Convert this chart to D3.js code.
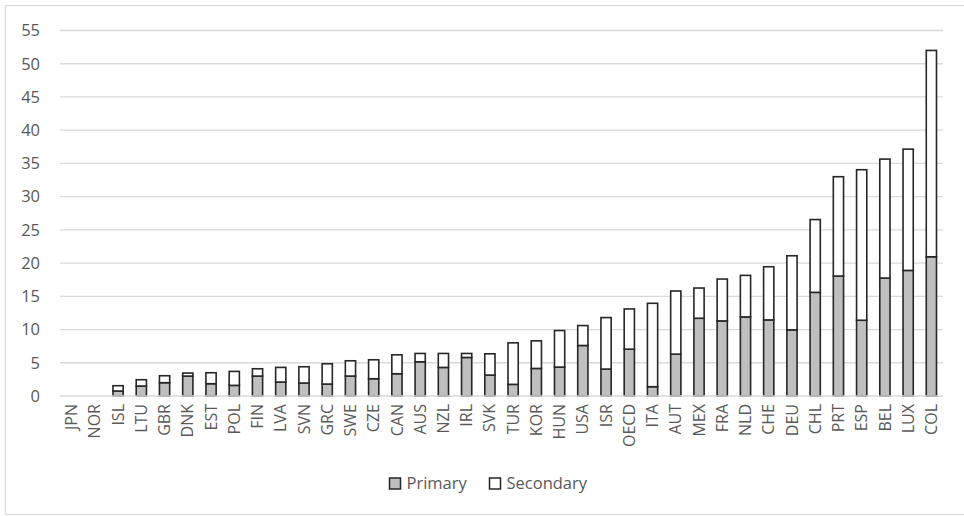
<!DOCTYPE html>
<html>
<head>
<meta charset="utf-8">
<script src="https://cdn.jsdelivr.net/npm/d3@7/dist/d3.min.js"></script>
<style>
  html, body { margin: 0; padding: 0; background: #fff; }
  svg { display: block; font-family: "Open Sans", "Noto Sans", sans-serif; }
</style>
</head>
<body>
<svg id="chart" width="964" height="516"></svg>
<script>
// Countries, ordered by total
const countries = ["JPN","NOR","ISL","LTU","GBR","DNK","EST","POL","FIN","LVA","SVN","GRC","SWE","CZE","CAN","AUS","NZL","IRL","SVK","TUR","KOR","HUN","USA","ISR","OECD","ITA","AUT","MEX","FRA","NLD","CHE","DEU","CHL","PRT","ESP","BEL","LUX","COL"];

// Primary component
const primary = [0,0,0.75,1.5,2.0,3.0,1.85,1.6,3.0,2.1,1.95,1.8,3.0,2.6,3.35,5.15,4.3,5.8,3.15,1.75,4.15,4.35,7.6,4.05,7.05,1.4,6.3,11.7,11.3,11.9,11.45,9.95,15.6,18.05,11.4,17.75,18.9,20.95];

// Secondary component (stacked on top of primary)
const secondary = [0,0,0.8,0.95,1.05,0.45,1.65,2.1,1.1,2.2,2.45,3.05,2.3,2.85,2.85,1.25,2.1,0.6,3.2,6.25,4.15,5.5,3.0,7.75,6.05,12.55,9.5,4.55,6.3,6.25,8.0,11.15,10.95,14.95,22.65,17.9,18.25,31.05];

const yTicks = [0,5,10,15,20,25,30,35,40,45,50,55];
const seriesNames = ["Primary","Secondary"];
const seriesFill = ["#bfbfbf","#ffffff"];

const svg = d3.select("#chart");
const textColor = "#595959";
const barStroke = "#262626";

// Chart frame
svg.append("rect")
  .attr("x", 5.5).attr("y", 5.5)
  .attr("width", 962).attr("height", 509)
  .attr("fill", "none").attr("stroke", "#d9d9d9").attr("stroke-width", 1.2);

const plot = { left: 60, right: 943, top: 30.5, bottom: 396 };

const x = d3.scaleBand()
  .domain(countries)
  .range([plot.left, plot.right])
  .paddingInner(0.56)
  .paddingOuter(0.28);

const y = d3.scaleLinear()
  .domain([0, 55])
  .range([plot.bottom, plot.top]);

// Gridlines
svg.append("g")
  .selectAll("line")
  .data(yTicks.filter(t => t > 0))
  .join("line")
  .attr("x1", plot.left).attr("x2", plot.right)
  .attr("y1", d => y(d)).attr("y2", d => y(d))
  .attr("stroke", "#d9d9d9").attr("stroke-width", 1.3);

// Y axis labels
const yAxis = svg.append("g")
  .attr("transform", `translate(${plot.left},0)`)
  .call(d3.axisLeft(y).tickValues(yTicks).tickSize(0).tickPadding(20));
yAxis.select(".domain").remove();
yAxis.selectAll("text")
  .attr("fill", textColor)
  .style("font-size", "16.5px")
  .style("font-family", "'Open Sans', sans-serif");

// Stacked bars
const stackData = countries.map((c, i) => ({ country: c, Primary: primary[i], Secondary: secondary[i] }));
const stacked = d3.stack().keys(seriesNames)(stackData);

svg.append("g")
  .selectAll("g")
  .data(stacked)
  .join("g")
  .attr("fill", (d, i) => seriesFill[i])
  .selectAll("rect")
  .data(d => d.filter(p => p[1] - p[0] > 0))
  .join("rect")
  .attr("x", d => x(d.data.country))
  .attr("width", x.bandwidth())
  .attr("y", d => y(d[1]))
  .attr("height", d => y(d[0]) - y(d[1]))
  .attr("stroke", barStroke)
  .attr("stroke-width", 1.6);

// Category axis
svg.append("line")
  .attr("x1", plot.left).attr("x2", plot.right)
  .attr("y1", plot.bottom).attr("y2", plot.bottom)
  .attr("stroke", "#d9d9d9").attr("stroke-width", 1.5);

const xAxis = svg.append("g")
  .attr("transform", `translate(0,${plot.bottom})`)
  .call(d3.axisBottom(x).tickSize(0).tickPadding(0));
xAxis.select(".domain").remove();
xAxis.selectAll("text")
  .attr("fill", textColor)
  .style("font-size", "16px")
  .style("font-family", "'Open Sans', sans-serif")
  .attr("text-anchor", "end")
  .attr("dy", "0.35em")
  .attr("transform", "translate(0,8) rotate(-90)")
  .attr("x", 0).attr("y", 0);

// Legend
const legend = svg.append("g");
const legendX = [389.5, 489.5];
seriesNames.forEach((name, i) => {
  legend.append("rect")
    .attr("x", legendX[i]).attr("y", 478)
    .attr("width", 11).attr("height", 11)
    .attr("fill", seriesFill[i])
    .attr("stroke", barStroke).attr("stroke-width", 1.5);
  legend.append("text")
    .attr("x", legendX[i] + 17).attr("y", 489)
    .attr("fill", textColor)
    .style("font-size", "16.5px")
    .text(name);
});
</script>
</body>
</html>
